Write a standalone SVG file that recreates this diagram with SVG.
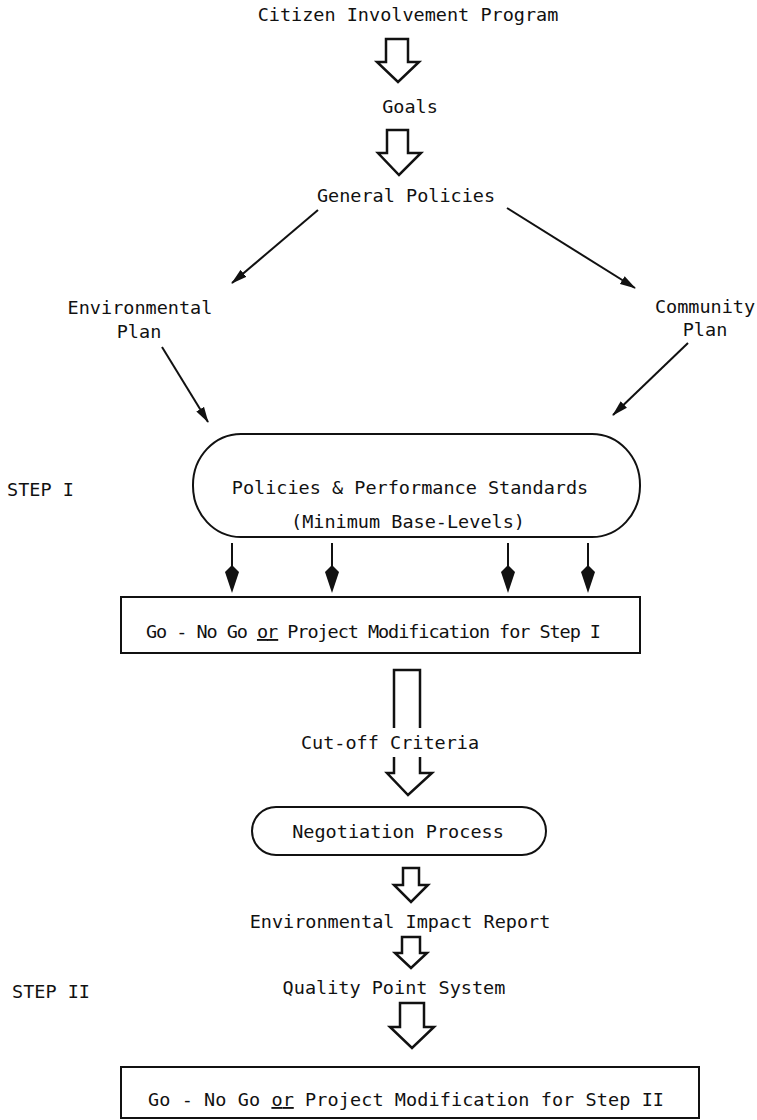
<svg xmlns="http://www.w3.org/2000/svg" width="757" height="1120" viewBox="0 0 757 1120">
  <style>
    text { font-family: "DejaVu Sans Mono", "Liberation Mono", monospace; font-size: 18.5px; fill: #111; }
    .c { text-anchor: middle; }
    .box { fill: none; stroke: #111; stroke-width: 2; }
    .block { fill: #fff; stroke: #111; stroke-width: 2.5; stroke-linejoin: miter; }
    .open { fill: none; stroke: #111; stroke-width: 2.5; }
    .line { stroke: #111; stroke-width: 2; fill: none; }
    .spear { fill: #111; stroke: none; }
  </style>
  <defs>
    <marker id="head" viewBox="0 0 16 10" refX="15" refY="5" markerWidth="16" markerHeight="10" markerUnits="userSpaceOnUse" orient="auto">
      <path d="M0,0.5 L16,5 L0,9.5 Z" fill="#111"/>
    </marker>
  </defs>
  <rect width="757" height="1120" fill="#fff"/>

  <!-- nodes -->
  <g id="citizen-program"><text class="c" x="408" y="21">Citizen Involvement Program</text></g>
  <g id="goals"><text class="c" x="410" y="113">Goals</text></g>
  <g id="general-policies"><text class="c" x="406" y="202">General Policies</text></g>
  <g id="environmental-plan">
    <text class="c" x="140" y="314">Environmental</text>
    <text class="c" x="139" y="338">Plan</text>
  </g>
  <g id="community-plan">
    <text class="c" x="705" y="313">Community</text>
    <text class="c" x="705" y="336">Plan</text>
  </g>
  <g id="step-1-label"><text x="7" y="496">STEP I</text></g>
  <g id="standards">
    <rect class="box" x="193" y="434" width="447" height="103" rx="48" ry="51"/>
    <text class="c" x="410" y="494">Policies &amp; Performance Standards</text>
    <text class="c" x="408" y="528">(Minimum Base-Levels)</text>
  </g>
  <g id="decision-step-1">
    <rect class="box" x="121" y="597" width="519" height="56"/>
    <text x="146" y="638" textLength="455">Go - No Go <tspan text-decoration="underline">or</tspan> Project Modification for Step I</text>
  </g>
  <g id="cutoff-criteria"><text class="c" x="390" y="749">Cut-off Criteria</text></g>
  <g id="negotiation">
    <rect class="box" x="252" y="807" width="294" height="48" rx="24" ry="24"/>
    <text class="c" x="398" y="838">Negotiation Process</text>
  </g>
  <g id="impact-report"><text class="c" x="400" y="928">Environmental Impact Report</text></g>
  <g id="step-2-label"><text x="12" y="998">STEP II</text></g>
  <g id="quality-points"><text class="c" x="394" y="994">Quality Point System</text></g>
  <g id="decision-step-2">
    <rect class="box" x="121" y="1067" width="578" height="51"/>
    <text x="148" y="1106" textLength="516">Go - No Go <tspan text-decoration="underline">or</tspan> Project Modification for Step II</text>
  </g>

  <!-- connectors -->
  <g id="connectors">
    <!-- hollow block arrows down the main spine -->
    <path class="block" d="M386,62 L386,39 L408,39 L408,62 L419,62 L398,82 L377,62 Z"/>
    <path class="block" d="M387,153 L387,130 L408,130 L408,153 L421,153 L399,175 L378,153 Z"/>

    <!-- split-off arrows from the general policies -->
    <line class="line" x1="318" y1="210" x2="232" y2="283" marker-end="url(#head)"/>
    <line class="line" x1="507" y1="208" x2="635" y2="288" marker-end="url(#head)"/>

    <!-- plans feeding the standards -->
    <line class="line" x1="162" y1="347" x2="208" y2="422" marker-end="url(#head)"/>
    <line class="line" x1="688" y1="343" x2="613" y2="415" marker-end="url(#head)"/>

    <!-- standards down to the step I decision -->
    <g>
      <line class="line" x1="232" y1="543" x2="232" y2="570"/>
      <path class="spear" d="M232,565 L239,572 L232,593 L225,572 Z"/>
      <line class="line" x1="332" y1="543" x2="332" y2="570"/>
      <path class="spear" d="M332,565 L339,572 L332,593 L325,572 Z"/>
      <line class="line" x1="508" y1="543" x2="508" y2="570"/>
      <path class="spear" d="M508,565 L515,572 L508,593 L501,572 Z"/>
      <line class="line" x1="588" y1="543" x2="588" y2="570"/>
      <path class="spear" d="M588,565 L595,572 L588,593 L581,572 Z"/>
    </g>

    <!-- cut-off arrow, broken around its label -->
    <path class="open" d="M394,728 L394,670 L420,670 L420,728"/>
    <path class="block" d="M394,757 L394,773 L387,773 L408,795 L432,773 L420,773 L420,757"/>

    <path class="block" d="M403,885 L403,868 L419,868 L419,885 L428,885 L411,902 L394,885 Z"/>
    <path class="block" d="M402,953 L402,937 L420,937 L420,953 L427,953 L411,968 L395,953 Z"/>
    <path class="block" d="M400,1027 L400,1003 L424,1003 L424,1027 L434,1027 L412,1048 L390,1027 Z"/>
  </g>
</svg>
